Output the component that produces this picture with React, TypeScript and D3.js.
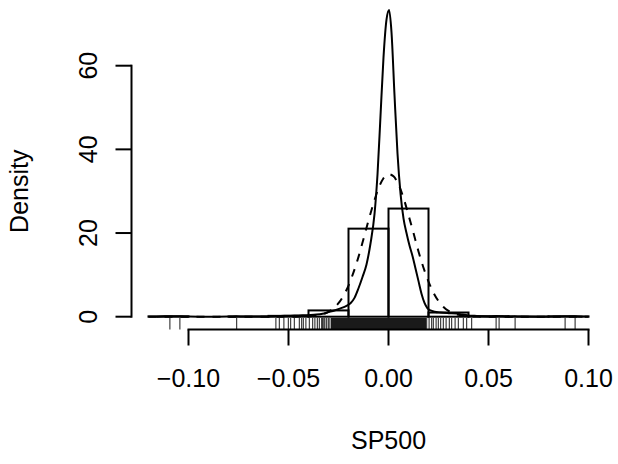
import React from "react";
import * as d3 from "d3";

// Histogram (density scale), breaks every 0.02
const binBreaks = [-0.12, -0.10, -0.08, -0.06, -0.04, -0.02, 0.0, 0.02, 0.04, 0.06, 0.08, 0.10];
const binDensity = [0.08, 0.0, 0.04, 0.2, 1.5, 21.05, 25.85, 1.0, 0.12, 0.04, 0.08];

// Kernel density estimate (solid line)
const kdeX = [-0.116, -0.112, -0.109, -0.106, -0.104, -0.1, -0.09, -0.08, -0.076, -0.072, -0.062, -0.056, -0.052, -0.049, -0.045, -0.042, -0.039, -0.036, -0.033, -0.03, -0.027, -0.024, -0.021, -0.019, -0.017, -0.015, -0.013, -0.011, -0.009, -0.007, -0.0055, -0.004, -0.0025, -0.001, 0.0003, 0.0015, 0.003, 0.0045, 0.006, 0.0075, 0.009, 0.0105, 0.012, 0.0135, 0.015, 0.0165, 0.018, 0.0195, 0.021, 0.023, 0.026, 0.03, 0.034, 0.037, 0.04, 0.043, 0.047, 0.051, 0.054, 0.057, 0.06, 0.063, 0.066, 0.075, 0.088, 0.093, 0.097];
const kdeY = [0, 0.08, 0.12, 0.1, 0.12, 0.02, 0.0, 0.02, 0.1, 0.02, 0.02, 0.15, 0.2, 0.25, 0.3, 0.35, 0.4, 0.5, 0.7, 1.1, 1.5, 2.0, 2.6, 3.2, 4.5, 6.8, 9.5, 12.5, 17.5, 24.5, 34, 48, 62, 71, 73.3, 68, 53, 39, 29.5, 23.5, 20, 17, 14.5, 11.5, 8.5, 5.5, 3.3, 2.0, 1.5, 1.2, 1.0, 0.85, 0.75, 0.5, 0.3, 0.2, 0.08, 0.05, 0.15, 0.08, 0.02, 0.1, 0.02, 0, 0.1, 0.1, 0];

// Fitted normal density (dashed line)
const normX = [-0.12, -0.05, -0.045, -0.04, -0.035, -0.03, -0.0275, -0.025, -0.0225, -0.02, -0.0175, -0.015, -0.0125, -0.01, -0.0075, -0.005, -0.0025, 0.0, 0.0025, 0.005, 0.0075, 0.01, 0.0125, 0.015, 0.0175, 0.02, 0.0225, 0.025, 0.0275, 0.03, 0.035, 0.04, 0.045, 0.05, 0.10];
const normY = [0, 0, 0.02, 0.09, 0.35, 1.17, 1.99, 3.23, 5.03, 7.45, 10.6, 14.3, 18.6, 23.0, 27.1, 30.7, 33.1, 34.08, 33.55, 31.6, 28.4, 24.3, 20.0, 15.6, 11.7, 8.4, 5.72, 3.74, 2.33, 1.39, 0.43, 0.11, 0.02, 0, 0];

// Rug of observations
const rugValues = [
  -0.1093, -0.1043, -0.0759, -0.0563, -0.0546, -0.0523, -0.0501, -0.0489, -0.0471, -0.0446,
  -0.0434, -0.0426, -0.0413, -0.0396, -0.0379, -0.0368, -0.0356, -0.0346, -0.0334, -0.0329,
  -0.0323, -0.0318, -0.0309, -0.0301, -0.0293,
  -0.0285, -0.0280, -0.0275, -0.0270, -0.0265, -0.0260, -0.0255, -0.0250, -0.0245, -0.0240,
  -0.0235, -0.0230, -0.0225, -0.0220, -0.0215, -0.0210, -0.0205, -0.0200, -0.0195, -0.0190,
  -0.0185, -0.0180, -0.0175, -0.0170, -0.0165, -0.0160, -0.0155, -0.0150, -0.0145, -0.0140,
  -0.0135, -0.0130, -0.0125, -0.0120, -0.0115, -0.0110, -0.0105, -0.0100, -0.0095, -0.0090,
  -0.0085, -0.0080, -0.0075, -0.0070, -0.0065, -0.0060, -0.0055, -0.0050, -0.0045, -0.0040,
  -0.0035, -0.0030, -0.0025, -0.0020, -0.0015, -0.0010, -0.0005, 0.0000, 0.0005, 0.0010,
  0.0015, 0.0020, 0.0025, 0.0030, 0.0035, 0.0040, 0.0045, 0.0050, 0.0055, 0.0060,
  0.0065, 0.0070, 0.0075, 0.0080, 0.0085, 0.0090, 0.0095, 0.0100, 0.0105, 0.0110,
  0.0115, 0.0120, 0.0125, 0.0130, 0.0135, 0.0140, 0.0145, 0.0150, 0.0155, 0.0160,
  0.0165, 0.0170, 0.0175, 0.0180, 0.0185,
  0.0191, 0.0203, 0.0216, 0.0224, 0.0238, 0.0249, 0.0261, 0.0274, 0.0288, 0.0304,
  0.0316, 0.0333, 0.0349, 0.0374, 0.0391, 0.0416, 0.0538, 0.0553, 0.0633, 0.0883, 0.0933,
];

const xTicks = [-0.10, -0.05, 0.0, 0.05, 0.10];
const xTickLabels = ["\u22120.10", "\u22120.05", "0.00", "0.05", "0.10"];
const yTicks = [0, 20, 40, 60];
const yTickLabels = ["0", "20", "40", "60"];
const xTitle = "SP500";
const yTitle = "Density";

const W = 618;
const H = 464;
const FONT = "'Liberation Sans', Arial, Helvetica, sans-serif";
const FS = 25;

export default function App() {
  const x = d3.scaleLinear().domain([-0.10, 0.10]).range([188.5, 588.5]);
  const y = d3.scaleLinear().domain([0, 60]).range([316.7, 65.7]);
  const axisY = 329.5;
  const axisX = 131.5;
  const tickLen = 16;

  const line = d3
    .line<[number, number]>()
    .x((d) => x(d[0]))
    .y((d) => y(d[1]))
    .curve(d3.curveMonotoneX);

  const kdePath = line(kdeX.map((v, i) => [v, kdeY[i]] as [number, number])) || "";
  const normPath = line(normX.map((v, i) => [v, normY[i]] as [number, number])) || "";

  const sw = 2;

  return (
    <svg
      width={W}
      height={H}
      style={{ position: "absolute", left: 0, top: 0, background: "#fff" }}
      fontFamily={FONT}
    >
      <rect x={0} y={0} width={W} height={H} fill="#fff" />
      {/* histogram */}
      {binDensity.map((d, i) => {
        const x0 = x(binBreaks[i]);
        const x1 = x(binBreaks[i + 1]);
        const yt = y(d);
        return (
          <rect
            key={"b" + i}
            x={x0}
            y={yt}
            width={x1 - x0}
            height={y(0) - yt}
            fill="none"
            stroke="#000"
            strokeWidth={sw}
          />
        );
      })}
      {/* density curves */}
      <path d={kdePath} fill="none" stroke="#000" strokeWidth={sw} strokeLinejoin="round" />
      <path d={normPath} fill="none" stroke="#000" strokeWidth={sw} strokeDasharray="8,8" />
      {/* rug */}
      {rugValues.map((v, i) => (
        <line key={"r" + i} x1={x(v)} x2={x(v)} y1={axisY} y2={318} stroke="#000" strokeWidth={0.9} />
      ))}
      {/* x axis */}
      <line x1={x(xTicks[0])} x2={x(xTicks[xTicks.length - 1])} y1={axisY} y2={axisY} stroke="#000" strokeWidth={sw} strokeLinecap="square" />
      {xTicks.map((t, i) => (
        <g key={"xt" + i}>
          <line x1={x(t)} x2={x(t)} y1={axisY} y2={axisY + tickLen} stroke="#000" strokeWidth={sw} />
          <text x={x(t)} y={387} textAnchor="middle" fontSize={FS}>
            {xTickLabels[i]}
          </text>
        </g>
      ))}
      {/* y axis */}
      <line x1={axisX} x2={axisX} y1={y(yTicks[0])} y2={y(yTicks[yTicks.length - 1])} stroke="#000" strokeWidth={sw} strokeLinecap="square" />
      {yTicks.map((t, i) => (
        <g key={"yt" + i}>
          <line x1={axisX - tickLen} x2={axisX} y1={y(t)} y2={y(t)} stroke="#000" strokeWidth={sw} />
          <text
            transform={`translate(${97},${y(t)}) rotate(-90)`}
            textAnchor="middle"
            fontSize={FS}
          >
            {yTickLabels[i]}
          </text>
        </g>
      ))}
      {/* titles */}
      <text x={388.5} y={448.5} textAnchor="middle" fontSize={FS}>
        {xTitle}
      </text>
      <text transform={`translate(28,${(y(0) + y(60)) / 2}) rotate(-90)`} textAnchor="middle" fontSize={FS}>
        {yTitle}
      </text>
    </svg>
  );
}
